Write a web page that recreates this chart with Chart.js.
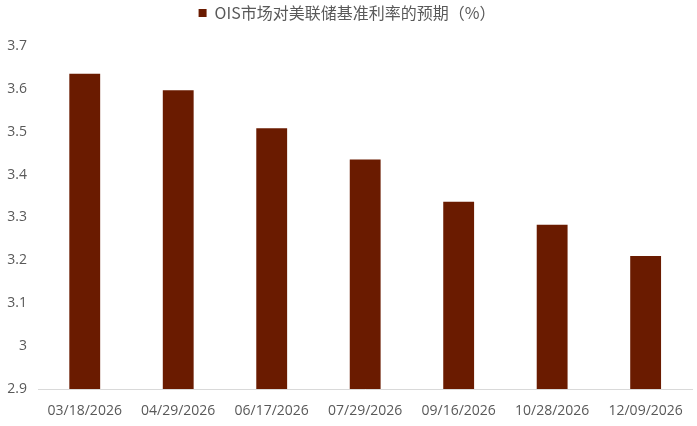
<!DOCTYPE html>
<html>
<head>
<meta charset="utf-8">
<script src="https://cdn.jsdelivr.net/npm/chart.js@4/dist/chart.umd.min.js"></script>
<style>
  html, body { margin: 0; padding: 0; background: #fff; }
  #wrap { width: 697px; height: 426px; }
</style>
</head>
<body>
<div id="wrap"><canvas id="oisChart"></canvas></div>
<script>
const meetingDates = ['03/18/2026', '04/29/2026', '06/17/2026', '07/29/2026', '09/16/2026', '10/28/2026', '12/09/2026'];
const expectedRates = [3.635, 3.597, 3.508, 3.435, 3.337, 3.283, 3.210];
const seriesName = 'OIS市场对美联储基准利率的预期（%）';

const ctx = document.getElementById('oisChart').getContext('2d');

// push the plot area down a bit under the legend
const legendGap = {
    id: 'legendGap',
    beforeInit(chart) {
        const fit = chart.legend.fit;
        chart.legend.fit = function() {
            fit.bind(chart.legend)();
            this.height += 15;
        };
    }
};

const chart = new Chart(ctx, {
    type: 'bar',
    data: {
        labels: meetingDates,
        datasets: [{
            label: seriesName,
            data: expectedRates,
            backgroundColor: '#6A1B00',
            borderWidth: 0,
            barPercentage: 0.66,
            categoryPercentage: 0.5
        }]
    },
    options: {
        responsive: true,
        maintainAspectRatio: false,
        animation: false,
        layout: { padding: { left: 0, right: 3, top: 0, bottom: 0 } },
        plugins: {
            legend: {
                position: 'top',
                labels: {
                    boxWidth: 8,
                    boxHeight: 8,
                    padding: 5,
                    color: '#595959',
                    font: { family: '"Noto Sans CJK SC", "Noto Sans", sans-serif', size: 16 }
                }
            },
            tooltip: { enabled: false }
        },
        scales: {
            x: {
                grid: { display: false, drawTicks: false },
                border: { display: true, color: '#D9D9D9', width: 1 },
                ticks: {
                    color: '#595959',
                    padding: 14,
                    maxRotation: 0,
                    font: { family: '"Open Sans", sans-serif', size: 14 }
                },
                afterFit(scale) { scale.height = 37; }
            },
            y: {
                min: 2.9,
                max: 3.7,
                grid: { display: false, drawTicks: false },
                border: { display: false },
                ticks: {
                    stepSize: 0.1,
                    color: '#595959',
                    padding: 11,
                    font: { family: '"Open Sans", sans-serif', size: 14 },
                    callback: v => parseFloat(v.toFixed(1)).toString()
                },
                afterFit(scale) { scale.width = 38; }
            }
        }
    },
    plugins: [legendGap]
});
</script>
</body>
</html>
